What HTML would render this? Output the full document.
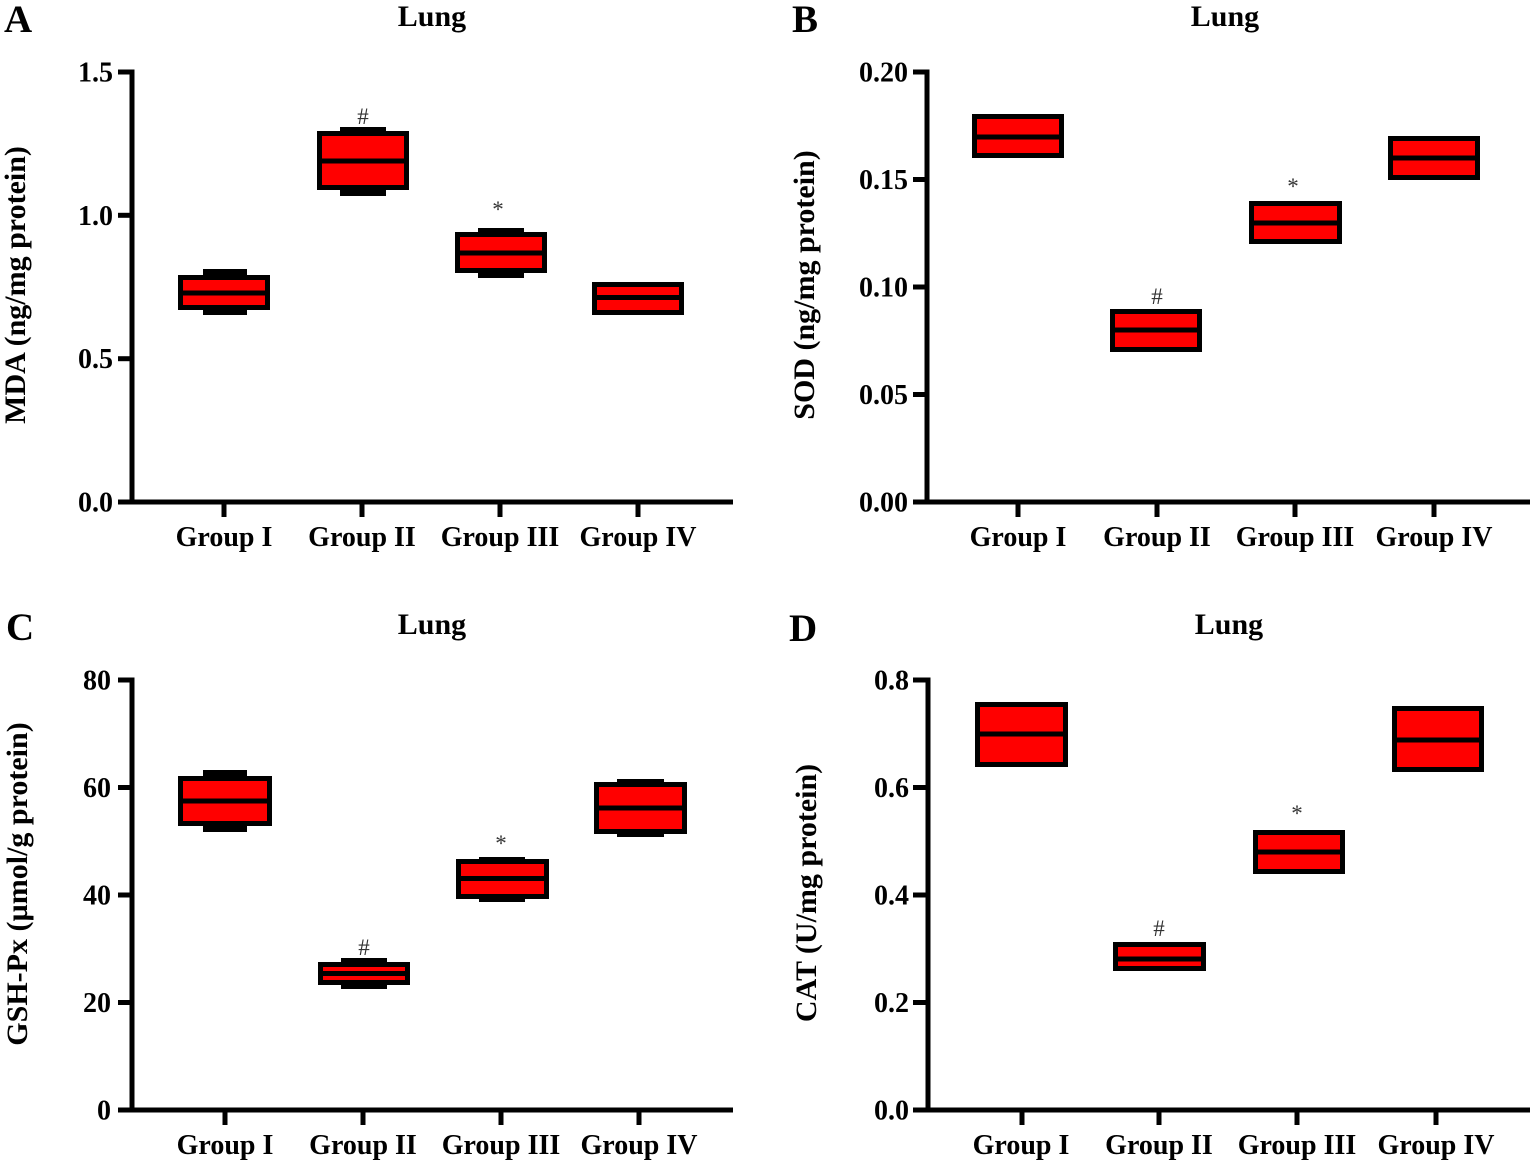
<!DOCTYPE html>
<html>
<head>
<meta charset="utf-8">
<style>
  html,body{margin:0;padding:0;background:#fff;}
  svg{display:block;}
  text{font-family:"Liberation Serif","DejaVu Serif",serif;fill:#000;}
  .b{font-weight:bold;}
  .tick{font-size:28px;font-weight:bold;}
  .grp{font-size:28px;font-weight:bold;}
  .ttl{font-size:30px;font-weight:bold;}
  .let{font-size:39px;font-weight:bold;}
  .ylab{font-size:30px;font-weight:bold;}
  .mk{font-size:23px;fill:#333;}
</style>
</head>
<body>
<svg width="1535" height="1167" viewBox="0 0 1535 1167" xmlns="http://www.w3.org/2000/svg">
<rect width="1535" height="1167" fill="#fff"/>

<!-- ================= Panel A ================= -->
<text class="let" x="4" y="32">A</text>
<text class="ttl" x="432" y="26" text-anchor="middle">Lung</text>
<text class="ylab" transform="translate(25,285) rotate(-90)" text-anchor="middle">MDA (ng/mg protein)</text>
<!-- axes -->
<line x1="132" y1="69.5" x2="132" y2="504.5" stroke="#000" stroke-width="5"/>
<line x1="129.5" y1="502" x2="733" y2="502" stroke="#000" stroke-width="5"/>
<g stroke="#000" stroke-width="5">
  <line x1="118" y1="72" x2="132" y2="72"/>
  <line x1="118" y1="215.3" x2="132" y2="215.3"/>
  <line x1="118" y1="358.7" x2="132" y2="358.7"/>
  <line x1="118" y1="502" x2="132" y2="502"/>
  <line x1="224" y1="502" x2="224" y2="517"/>
  <line x1="362" y1="502" x2="362" y2="517"/>
  <line x1="500" y1="502" x2="500" y2="517"/>
  <line x1="638" y1="502" x2="638" y2="517"/>
</g>
<g class="tick" text-anchor="end">
  <text x="113" y="81.5">1.5</text>
  <text x="113" y="224.8">1.0</text>
  <text x="113" y="368.2">0.5</text>
  <text x="113" y="511.5">0.0</text>
</g>
<g class="grp" text-anchor="middle">
  <text x="224" y="546">Group I</text>
  <text x="362" y="546">Group II</text>
  <text x="500" y="546">Group III</text>
  <text x="638" y="546">Group IV</text>
</g>
<!-- boxes A -->
<g>
  <rect x="203" y="269" width="44" height="9" fill="#000"/>
  <rect x="203" y="307" width="44" height="8" fill="#000"/>
  <rect x="180.5" y="277.5" width="87" height="30" fill="#f00" stroke="#000" stroke-width="5"/>
  <line x1="178" y1="293" x2="270" y2="293" stroke="#000" stroke-width="5"/>

  <rect x="340" y="127" width="46" height="7" fill="#000"/>
  <rect x="340" y="187" width="46" height="9" fill="#000"/>
  <rect x="319.5" y="133.5" width="87" height="54" fill="#f00" stroke="#000" stroke-width="5"/>
  <line x1="317" y1="161" x2="409" y2="161" stroke="#000" stroke-width="5"/>

  <rect x="478" y="228" width="46" height="7" fill="#000"/>
  <rect x="478" y="270" width="46" height="8" fill="#000"/>
  <rect x="457.5" y="234.5" width="87" height="36" fill="#f00" stroke="#000" stroke-width="5"/>
  <line x1="455" y1="253" x2="547" y2="253" stroke="#000" stroke-width="5"/>

  <rect x="594.5" y="284.5" width="87" height="28" fill="#f00" stroke="#000" stroke-width="5"/>
  <line x1="592" y1="297.5" x2="684" y2="297.5" stroke="#000" stroke-width="5"/>
</g>
<text class="mk" x="363" y="124" text-anchor="middle">#</text>
<text class="mk" x="498" y="217" text-anchor="middle">*</text>

<!-- ================= Panel B ================= -->
<text class="let" x="792" y="32">B</text>
<text class="ttl" x="1225" y="26" text-anchor="middle">Lung</text>
<text class="ylab" transform="translate(814,285) rotate(-90)" text-anchor="middle">SOD (ng/mg protein)</text>
<line x1="927" y1="69.5" x2="927" y2="504.5" stroke="#000" stroke-width="5"/>
<line x1="924.5" y1="502" x2="1530" y2="502" stroke="#000" stroke-width="5"/>
<g stroke="#000" stroke-width="5">
  <line x1="913" y1="72" x2="927" y2="72"/>
  <line x1="913" y1="179.5" x2="927" y2="179.5"/>
  <line x1="913" y1="287" x2="927" y2="287"/>
  <line x1="913" y1="394.5" x2="927" y2="394.5"/>
  <line x1="913" y1="502" x2="927" y2="502"/>
  <line x1="1018" y1="502" x2="1018" y2="517"/>
  <line x1="1157" y1="502" x2="1157" y2="517"/>
  <line x1="1295" y1="502" x2="1295" y2="517"/>
  <line x1="1434" y1="502" x2="1434" y2="517"/>
</g>
<g class="tick" text-anchor="end">
  <text x="908" y="81.5">0.20</text>
  <text x="908" y="189">0.15</text>
  <text x="908" y="296.5">0.10</text>
  <text x="908" y="404">0.05</text>
  <text x="908" y="511.5">0.00</text>
</g>
<g class="grp" text-anchor="middle">
  <text x="1018" y="546">Group I</text>
  <text x="1157" y="546">Group II</text>
  <text x="1295" y="546">Group III</text>
  <text x="1434" y="546">Group IV</text>
</g>
<g>
  <rect x="974.5" y="116.5" width="87" height="39" fill="#f00" stroke="#000" stroke-width="5"/>
  <line x1="972" y1="137" x2="1064" y2="137" stroke="#000" stroke-width="5"/>

  <rect x="1112.5" y="311.5" width="87" height="38" fill="#f00" stroke="#000" stroke-width="5"/>
  <line x1="1110" y1="330" x2="1202" y2="330" stroke="#000" stroke-width="5"/>

  <rect x="1251.5" y="203.5" width="88" height="38" fill="#f00" stroke="#000" stroke-width="5"/>
  <line x1="1249" y1="223" x2="1342" y2="223" stroke="#000" stroke-width="5"/>

  <rect x="1390.5" y="138.5" width="87" height="39" fill="#f00" stroke="#000" stroke-width="5"/>
  <line x1="1388" y1="158" x2="1480" y2="158" stroke="#000" stroke-width="5"/>
</g>
<text class="mk" x="1157" y="304" text-anchor="middle">#</text>
<text class="mk" x="1293" y="194" text-anchor="middle">*</text>

<!-- ================= Panel C ================= -->
<text class="let" x="6" y="640">C</text>
<text class="ttl" x="432" y="634" text-anchor="middle">Lung</text>
<text class="ylab" transform="translate(27,884) rotate(-90)" text-anchor="middle">GSH-Px (µmol/g protein)</text>
<line x1="132" y1="677.5" x2="132" y2="1112.5" stroke="#000" stroke-width="5"/>
<line x1="129.5" y1="1110" x2="733" y2="1110" stroke="#000" stroke-width="5"/>
<g stroke="#000" stroke-width="5">
  <line x1="118" y1="680" x2="132" y2="680"/>
  <line x1="118" y1="787.5" x2="132" y2="787.5"/>
  <line x1="118" y1="895" x2="132" y2="895"/>
  <line x1="118" y1="1002.5" x2="132" y2="1002.5"/>
  <line x1="118" y1="1110" x2="132" y2="1110"/>
  <line x1="225" y1="1110" x2="225" y2="1125"/>
  <line x1="363" y1="1110" x2="363" y2="1125"/>
  <line x1="501" y1="1110" x2="501" y2="1125"/>
  <line x1="639" y1="1110" x2="639" y2="1125"/>
</g>
<g class="tick" text-anchor="end">
  <text x="111" y="689.5">80</text>
  <text x="111" y="797">60</text>
  <text x="111" y="904.5">40</text>
  <text x="111" y="1012">20</text>
  <text x="111" y="1119.5">0</text>
</g>
<g class="grp" text-anchor="middle">
  <text x="225" y="1154">Group I</text>
  <text x="363" y="1154">Group II</text>
  <text x="501" y="1154">Group III</text>
  <text x="639" y="1154">Group IV</text>
</g>
<g>
  <rect x="203" y="770" width="44" height="9" fill="#000"/>
  <rect x="203" y="823" width="44" height="9" fill="#000"/>
  <rect x="180.5" y="778.5" width="89" height="45" fill="#f00" stroke="#000" stroke-width="5"/>
  <line x1="178" y1="801" x2="272" y2="801" stroke="#000" stroke-width="5"/>

  <rect x="341" y="958" width="46" height="7" fill="#000"/>
  <rect x="341" y="982" width="46" height="7" fill="#000"/>
  <rect x="320.5" y="964.5" width="87" height="18" fill="#f00" stroke="#000" stroke-width="5"/>
  <line x1="318" y1="973.5" x2="410" y2="973.5" stroke="#000" stroke-width="5"/>

  <rect x="479" y="857" width="46" height="6" fill="#000"/>
  <rect x="479" y="896" width="46" height="6" fill="#000"/>
  <rect x="458.5" y="861.5" width="88" height="35" fill="#f00" stroke="#000" stroke-width="5"/>
  <line x1="456" y1="878.5" x2="549" y2="878.5" stroke="#000" stroke-width="5"/>

  <rect x="617" y="779" width="47" height="6" fill="#000"/>
  <rect x="617" y="831" width="47" height="6" fill="#000"/>
  <rect x="596.5" y="784.5" width="88" height="47" fill="#f00" stroke="#000" stroke-width="5"/>
  <line x1="594" y1="808" x2="687" y2="808" stroke="#000" stroke-width="5"/>
</g>
<text class="mk" x="364" y="955" text-anchor="middle">#</text>
<text class="mk" x="501" y="851" text-anchor="middle">*</text>

<!-- ================= Panel D ================= -->
<text class="let" x="789" y="641">D</text>
<text class="ttl" x="1229" y="634" text-anchor="middle">Lung</text>
<text class="ylab" transform="translate(816,893) rotate(-90)" text-anchor="middle">CAT (U/mg protein)</text>
<line x1="928" y1="677.5" x2="928" y2="1112.5" stroke="#000" stroke-width="5"/>
<line x1="925.5" y1="1110" x2="1530" y2="1110" stroke="#000" stroke-width="5"/>
<g stroke="#000" stroke-width="5">
  <line x1="913" y1="680" x2="928" y2="680"/>
  <line x1="913" y1="787.5" x2="928" y2="787.5"/>
  <line x1="913" y1="895" x2="928" y2="895"/>
  <line x1="913" y1="1002.5" x2="928" y2="1002.5"/>
  <line x1="913" y1="1110" x2="928" y2="1110"/>
  <line x1="1022" y1="1110" x2="1022" y2="1125"/>
  <line x1="1159" y1="1110" x2="1159" y2="1125"/>
  <line x1="1297" y1="1110" x2="1297" y2="1125"/>
  <line x1="1436" y1="1110" x2="1436" y2="1125"/>
</g>
<g class="tick" text-anchor="end">
  <text x="909" y="689.5">0.8</text>
  <text x="909" y="797">0.6</text>
  <text x="909" y="904.5">0.4</text>
  <text x="909" y="1012">0.2</text>
  <text x="909" y="1119.5">0.0</text>
</g>
<g class="grp" text-anchor="middle">
  <text x="1021" y="1154">Group I</text>
  <text x="1159" y="1154">Group II</text>
  <text x="1297" y="1154">Group III</text>
  <text x="1436" y="1154">Group IV</text>
</g>
<g>
  <rect x="977.5" y="704.5" width="88" height="60" fill="#f00" stroke="#000" stroke-width="5"/>
  <line x1="975" y1="734" x2="1068" y2="734" stroke="#000" stroke-width="5"/>

  <rect x="1115.5" y="944.5" width="88" height="24" fill="#f00" stroke="#000" stroke-width="5"/>
  <line x1="1113" y1="959" x2="1206" y2="959" stroke="#000" stroke-width="5"/>

  <rect x="1255.5" y="832.5" width="87" height="39" fill="#f00" stroke="#000" stroke-width="5"/>
  <line x1="1253" y1="852" x2="1345" y2="852" stroke="#000" stroke-width="5"/>

  <rect x="1394.5" y="708.5" width="87" height="61" fill="#f00" stroke="#000" stroke-width="5"/>
  <line x1="1392" y1="740" x2="1484" y2="740" stroke="#000" stroke-width="5"/>
</g>
<text class="mk" x="1159" y="936" text-anchor="middle">#</text>
<text class="mk" x="1297" y="821" text-anchor="middle">*</text>

</svg>
</body>
</html>
